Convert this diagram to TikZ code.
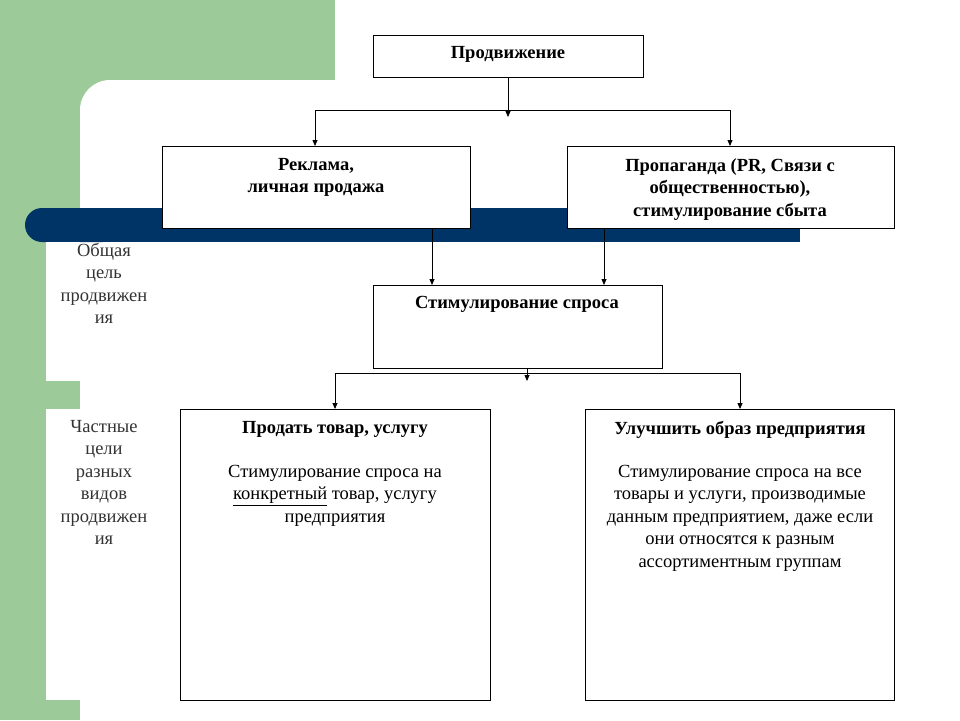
\documentclass[tikz,border=0pt]{standalone}
\usepackage{fontspec}
\setmainfont{Liberation Serif}
\usetikzlibrary{arrows.meta}
\definecolor{gr}{RGB}{156,202,152}
\definecolor{bar}{RGB}{0,51,102}
\begin{document}
\begin{tikzpicture}[x=1pt,y=-1pt,
  box/.style={draw=black,fill=white,line width=0.8pt},
  ttl/.style={anchor=north,align=center,inner sep=0pt,font=\fontsize{18.5}{22.5}\selectfont\bfseries},
  bd/.style={anchor=north,align=center,inner sep=0pt,font=\fontsize{18.5}{22.5}\selectfont},
  side/.style={anchor=north,align=center,inner sep=0pt,font=\fontsize{18.5}{22.5}\selectfont,text=black!80},
  arr/.style={-{Triangle[length=6pt,width=5pt]},line width=0.8pt},
  ln/.style={line width=0.8pt}]
\useasboundingbox (0,0) rectangle (960,720);
\fill[gr] (0,0) rectangle (960,720);
\fill[white] (335,0) rectangle (960,80);
\fill[white,rounded corners=30pt] (80,760) -- (80,80) -- (990,80) -- (990,760) -- cycle;
\fill[white] (900,80) rectangle (960,720);
\fill[white] (46,228) rectangle (80,381);
\fill[white] (46,409) rectangle (80,700);
\fill[bar,rounded corners=17pt] (25,208) rectangle (120,242);
\fill[bar] (60,208) rectangle (800,242);
\fill[white] (46,242) rectangle (80,260);
\node[side] (s1) at (104,243) {Общая\\цель\\продвижен\\ия};
\node[side] (s2) at (104,420) {Частные\\цели\\разных\\видов\\продвижен\\ия};
% boxes
\draw[box] (373,35) rectangle (643,77);
\node[ttl] (p) at (508,46) {Продвижение};
\coordinate (pb) at (508,77);
\draw[box] (162,146) rectangle (470,228);
\node[ttl] (r) at (316,158) {Реклама,\\личная продажа};
\draw[box] (567,146) rectangle (894,228);
\node[ttl] (pr) at (730,158) {Пропаганда (PR, Связи с\\общественностью),\\стимулирование сбыта};
\draw[box] (373,285) rectangle (662,368);
\node[ttl] (st) at (517,296) {Стимулирование спроса};
\draw[box] (180,409) rectangle (490,700);
\node[ttl] (a) at (335,421) {Продать товар, услугу};
\node[bd] (a2) at (335,465) {Стимулирование спроса на\\\underline{конкретный} товар, услугу\\предприятия};
\draw[box] (585,409) rectangle (894,700);
\node[ttl] (b) at (740,421) {Улучшить образ предприятия};
\node[bd] (b2) at (740,465) {Стимулирование спроса на все\\товары и услуги, производимые\\данным предприятием, даже если\\они относятся к разным\\ассортиментным группам};
% connectors
\coordinate (j1) at (508,117);
\draw[arr] (pb) -- (j1);
\coordinate (h1) at (315,110);
\coordinate (h2) at (730,110);
\draw[ln] (h1) -- (h2);
\coordinate (rt) at (315,146);
\coordinate (prt) at (730,146);
\draw[arr] (h1) -- (rt);
\draw[arr] (h2) -- (prt);
\coordinate (rb) at (432,228);
\coordinate (prb) at (604,228);
\coordinate (st1) at (432,285);
\coordinate (st2) at (604,285);
\draw[arr] (rb) -- (st1);
\draw[arr] (prb) -- (st2);
\coordinate (sb) at (527,368);
\coordinate (j2) at (527,381);
\draw[arr] (sb) -- (j2);
\coordinate (h3) at (335,373);
\coordinate (h4) at (740,373);
\draw[ln] (h3) -- (h4);
\coordinate (at) at (335,409);
\coordinate (bt) at (740,409);
\draw[arr] (h3) -- (at);
\draw[arr] (h4) -- (bt);
\end{tikzpicture}
\end{document}
